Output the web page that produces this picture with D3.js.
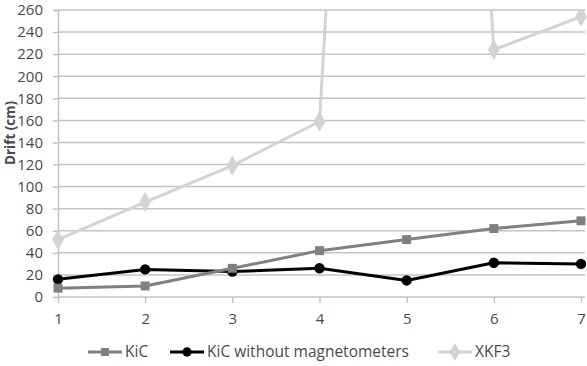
<!DOCTYPE html>
<html>
<head>
<meta charset="utf-8">
<script src="https://cdn.jsdelivr.net/npm/d3@7"></script>
<style>
  body { margin: 0; background: #fff; }
  text { font-family: "Open Sans", "Noto Sans", sans-serif; }
</style>
</head>
<body>
<div id="chart"></div>
<script>
// data
var steps = [1, 2, 3, 4, 5, 6, 7];
var kic = [8, 10, 26, 42, 52, 62, 69];
var kicNoMag = [16, 25, 23, 26, 15, 31, 30];
var xkf3 = [52, 86, 119, 159, 1500, 224, 254]; // step 5 goes way off the chart
var yTicks = [0, 20, 40, 60, 80, 100, 120, 140, 160, 180, 200, 220, 240, 260];

var W = 587, H = 366;
var margin = { top: 10, right: 6, bottom: 69, left: 58 };

var svg = d3.select("#chart")
    .append("svg")
    .attr("width", W)
    .attr("height", H);

var x = d3.scaleLinear()
    .domain([1, 7])
    .range([margin.left, 581]);
var y = d3.scaleLinear()
    .domain([0, 260])
    .range([H - margin.bottom, margin.top]);

// clip so the XKF3 spike stops at the top of the plot
svg.append("clipPath").attr("id", "plotclip")
    .append("rect")
    .attr("x", 0).attr("y", margin.top - 1)
    .attr("width", W).attr("height", y(0) - margin.top + 10);

// gridlines
svg.append("g")
    .selectAll("line")
    .data(yTicks.filter(function (d) { return d > 0; }))
    .enter().append("line")
    .attr("x1", margin.left).attr("x2", 585)
    .attr("y1", function (d) { return y(d); })
    .attr("y2", function (d) { return y(d); })
    .attr("stroke", "#c4c4c4")
    .attr("stroke-width", 1.5);

// y axis
var yAxis = svg.append("g")
    .attr("transform", "translate(" + margin.left + ",0)")
    .call(d3.axisLeft(y).tickValues(yTicks).tickSize(5).tickPadding(10));
yAxis.select(".domain").attr("stroke", "#c4c4c4").attr("stroke-width", 1.5);
yAxis.selectAll(".tick line").attr("stroke", "#c4c4c4").attr("stroke-width", 1.5);
yAxis.selectAll("text")
    .attr("fill", "#4a4a4a")
    .style("font-size", "15px");

// x axis
var xAxis = svg.append("g")
    .attr("transform", "translate(0," + y(0) + ")")
    .call(d3.axisBottom(x).tickValues(steps).tickSize(6).tickPadding(10).tickFormat(d3.format("d")));
xAxis.select(".domain").attr("stroke", "#c4c4c4").attr("stroke-width", 1.5)
    .attr("d", "M" + margin.left + ",0H585");
xAxis.selectAll(".tick line").attr("stroke", "#c4c4c4").attr("stroke-width", 1.5);
xAxis.selectAll("text")
    .attr("fill", "#4a4a4a")
    .style("font-size", "15px");

// y axis title, hugging the left edge
svg.append("text")
    .attr("transform", "translate(14.5,133) rotate(-90)")
    .attr("text-anchor", "middle")
    .attr("fill", "#4a4a4a")
    .style("font-size", "13.5px")
    .style("font-weight", "bold")
    .text("Drift (cm)");

var series = [
    { name: "KiC", values: kic, color: "#808080", shape: d3.symbolSquare, size: 80 },
    { name: "KiC without magnetometers", values: kicNoMag, color: "#000000", shape: d3.symbolCircle, size: 85 },
    { name: "XKF3", values: xkf3, color: "#d3d3d3", shape: d3.symbolDiamond, size: 120 }
];

var line = d3.line()
    .x(function (d, i) { return x(steps[i]); })
    .y(function (d) { return y(d); });

var plot = svg.append("g").attr("clip-path", "url(#plotclip)");

series.slice().reverse().forEach(function (s) {
    plot.append("path")
        .datum(s.values)
        .attr("fill", "none")
        .attr("stroke", s.color)
        .attr("stroke-width", 3)
        .attr("stroke-linejoin", "round")
        .attr("d", line);
    plot.selectAll(null)
        .data(s.values.filter(function (d) { return d <= 260; }).map(function (d) {
            return { v: d, i: s.values.indexOf(d) };
        }))
        .enter().append("path")
        .attr("d", d3.symbol().type(s.shape).size(s.size))
        .attr("transform", function (d) { return "translate(" + x(steps[d.i]) + "," + y(d.v) + ")"; })
        .attr("fill", s.color);
});

// legend
var legendX = [88, 170, 438];
var legend = svg.append("g").attr("transform", "translate(0,352)");
series.forEach(function (s, i) {
    var g = legend.append("g").attr("transform", "translate(" + legendX[i] + ",0)");
    g.append("line")
        .attr("x1", 0).attr("x2", 34)
        .attr("stroke", s.color)
        .attr("stroke-width", 3);
    g.append("path")
        .attr("d", d3.symbol().type(s.shape).size(s.size * 0.8))
        .attr("transform", "translate(17,0)")
        .attr("fill", s.color);
    g.append("text")
        .attr("x", 37)
        .attr("dy", "0.35em")
        .attr("fill", "#4a4a4a")
        .style("font-size", "15.5px")
        .text(s.name);
});
</script>
</body>
</html>
